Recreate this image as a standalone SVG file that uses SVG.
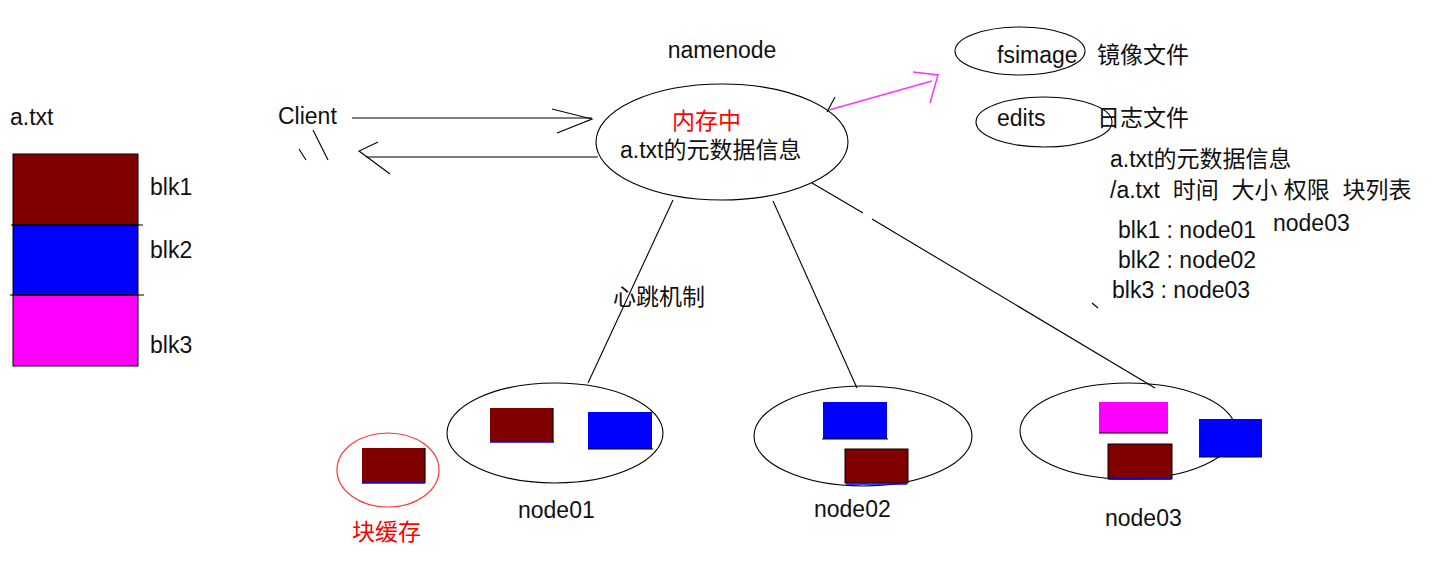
<svg xmlns="http://www.w3.org/2000/svg" width="1445" height="567" viewBox="0 0 1445 567">
<style>
text{font-family:"Liberation Sans","Noto Sans CJK SC",sans-serif;font-size:23px;fill:#111}
.red{fill:#ff0000}
.ln{stroke:#000;stroke-width:1.1;fill:none}
.el{stroke:#000;stroke-width:1.1;fill:none}
.mr{fill:#800000}
.bl{fill:#0000ff}
.mg{fill:#ff00ff}
.edge{stroke:#000;stroke-width:1.2;fill:none}
.bedge{stroke:#0000ff;stroke-width:1.5;fill:none}
</style>
<rect width="1445" height="567" fill="#fff"/>

<g id="file">
<text x="10" y="125">a.txt</text>
<rect x="13" y="154" width="125" height="71" class="mr" stroke="#000" stroke-width="1"/>
<rect x="13" y="225" width="125" height="70" class="bl" stroke="#000" stroke-width="1"/>
<rect x="13" y="295" width="125" height="71" class="mg" stroke="#000" stroke-width="1"/>
<line x1="11" y1="225" x2="143" y2="225" class="ln"/>
<line x1="10" y1="295" x2="144" y2="295" class="ln"/>
<text x="150" y="195">blk1</text>
<text x="150" y="258">blk2</text>
<text x="150" y="353">blk3</text>
</g>

<g id="client">
<text x="278" y="124">Client</text>
<line x1="313" y1="130" x2="328" y2="160" class="ln"/>
<line x1="299" y1="149" x2="306" y2="160" class="ln"/>
</g>

<g id="namenode">
<text x="722" y="58" text-anchor="middle">namenode</text>
<ellipse cx="722" cy="142" rx="126" ry="58" class="el"/>
<text x="672" y="129" class="red">内存中</text>
<text x="620" y="158">a.txt的元数据信息</text>
<line x1="835" y1="97" x2="827" y2="112" class="ln"/>
</g>

<g id="fsimage">
<ellipse cx="1020" cy="51" rx="65" ry="24" class="el"/>
<text x="997" y="63">fsimage</text>
<text x="1097" y="63">镜像文件</text>
</g>

<g id="edits">
<ellipse cx="1044" cy="122" rx="68" ry="25" class="el"/>
<text x="997" y="126">edits</text>
<text x="1097" y="126">日志文件</text>
</g>

<g id="metadata">
<text x="1110" y="167">a.txt的元数据信息</text>
<text x="1110" y="198" xml:space="preserve">/a.txt  时间  大小 权限  块列表</text>
<text x="1118" y="238">blk1 : node01</text>
<text x="1273" y="231">node03</text>
<text x="1118" y="268">blk2 : node02</text>
<text x="1112" y="298">blk3 : node03</text>
<line x1="1092" y1="303" x2="1098" y2="308" class="ln"/>
</g>

<g id="heartbeat">
<text x="613" y="305">心跳机制</text>
</g>

<g id="cache">
<ellipse cx="388" cy="470" rx="51" ry="37" fill="none" stroke="#ff3333" stroke-width="1.2"/>
<rect x="362" y="448" width="63" height="35" class="mr"/>
<line x1="362" y1="483" x2="425" y2="483" class="bedge"/>
<line x1="425" y1="448" x2="425" y2="483" class="edge"/>
<text x="352" y="540" class="red">块缓存</text>
</g>

<g id="node01">
<ellipse cx="555" cy="433" rx="108" ry="50" class="el"/>
<rect x="490" y="408" width="63" height="34" class="mr"/>
<line x1="490" y1="442" x2="554" y2="442" class="bedge"/>
<line x1="553" y1="408" x2="553" y2="442" class="edge"/>
<rect x="588" y="412" width="64" height="37" class="bl"/>
<line x1="588" y1="449" x2="653" y2="449" class="edge"/>
<text x="518" y="518">node01</text>
</g>

<g id="node02">
<ellipse cx="863" cy="436" rx="109" ry="50" class="el"/>
<rect x="823" y="402" width="64" height="37" class="bl"/>
<line x1="822" y1="439" x2="888" y2="439" class="edge"/>
<rect x="845" y="449" width="63" height="34" class="mr" stroke="#000" stroke-width="1"/>
<line x1="846" y1="484" x2="907" y2="484" class="bedge"/>
<text x="814" y="517">node02</text>
</g>

<g id="node03">
<ellipse cx="1128" cy="431" rx="108" ry="48" class="el"/>
<rect x="1099" y="402" width="69" height="31" class="mg"/>
<line x1="1099" y1="433" x2="1168" y2="433" class="edge"/>
<rect x="1108" y="444" width="64" height="35" class="mr" stroke="#000" stroke-width="1"/>
<line x1="1109" y1="479" x2="1171" y2="479" class="bedge"/>
<rect x="1199" y="419" width="63" height="38" class="bl"/>
<line x1="1199" y1="457" x2="1262" y2="457" class="edge"/>
<text x="1105" y="526">node03</text>
</g>

<g id="connectors">
<line x1="352" y1="118" x2="592" y2="118" class="ln"/>
<polyline points="552,109 592,119 557,133" class="ln"/>
<line x1="366" y1="157" x2="598" y2="157" class="ln"/>
<polyline points="378,142 359,151 390,174" class="ln"/>
<line x1="829" y1="110" x2="932" y2="81" stroke="#ff33ff" stroke-width="1.5" fill="none"/>
<polyline points="913,72 938,75 930,103" stroke="#ff33ff" stroke-width="1.5" fill="none"/>
<line x1="673" y1="200" x2="588" y2="383" class="ln"/>
<line x1="773" y1="201" x2="857" y2="388" class="ln"/>
<line x1="812" y1="183" x2="863" y2="213" class="ln"/>
<line x1="872" y1="219" x2="1155" y2="388" class="ln"/>
</g>
</svg>
